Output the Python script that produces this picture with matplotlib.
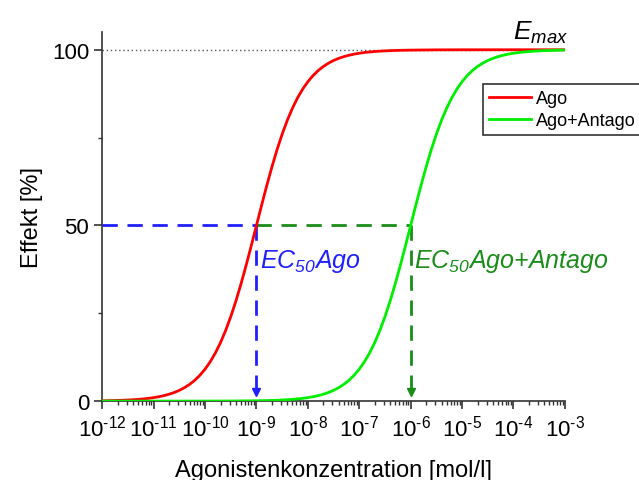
import matplotlib
matplotlib.use("Agg")
import matplotlib.pyplot as plt
from matplotlib.ticker import LogLocator, NullFormatter, FixedFormatter
import numpy as np

plt.rcParams['font.family'] = ['Liberation Sans', 'DejaVu Sans']
plt.rcParams['mathtext.fontset'] = 'custom'
plt.rcParams['mathtext.rm'] = 'Liberation Sans'
plt.rcParams['mathtext.it'] = 'Liberation Sans:italic'
plt.rcParams['mathtext.sf'] = 'Liberation Sans:italic'
plt.rcParams['mathtext.bf'] = 'Liberation Sans:bold'
plt.rcParams['axes.unicode_minus'] = False

# Data (log10 of concentration, effect in %)
ago_logx = list(np.round(np.arange(-12, -5.95, 0.1), 1)) + [-5.5, -5, -4, -3]
ago_eff = [0.10, 0.13, 0.16, 0.20, 0.25, 0.32, 0.40, 0.50, 0.63, 0.79,
           0.99, 1.24, 1.56, 1.96, 2.45, 3.07, 3.83, 4.77, 5.94, 7.36,
           9.09, 11.18, 13.68, 16.63, 20.08, 24.03, 28.47, 33.39, 38.69, 44.27,
           50.0,
           55.73, 61.31, 66.61, 71.53, 75.97, 79.92, 83.37, 86.32, 88.82, 90.91,
           92.64, 94.07, 95.23, 96.17, 96.94, 97.55, 98.04, 98.44, 98.76, 99.01,
           99.21, 99.37, 99.50, 99.60, 99.68, 99.75, 99.80, 99.84, 99.87, 99.90,
           99.97, 99.99, 100.0, 100.0]

anta_logx = [-12, -11, -10, -9.5] + list(np.round(np.arange(-9, -2.95, 0.1), 1))
anta_eff = [0.0, 0.0, 0.01, 0.03,
            0.10, 0.13, 0.16, 0.20, 0.25, 0.32, 0.40, 0.50, 0.63, 0.79,
            0.99, 1.24, 1.56, 1.96, 2.45, 3.07, 3.83, 4.77, 5.94, 7.36,
            9.09, 11.18, 13.68, 16.63, 20.08, 24.03, 28.47, 33.39, 38.69, 44.27,
            50.0,
            55.73, 61.31, 66.61, 71.53, 75.97, 79.92, 83.37, 86.32, 88.82, 90.91,
            92.64, 94.07, 95.23, 96.17, 96.94, 97.55, 98.04, 98.44, 98.76, 99.01,
            99.21, 99.37, 99.50, 99.60, 99.68, 99.75, 99.80, 99.84, 99.87, 99.90]

x_tick_exponents = [-12, -11, -10, -9, -8, -7, -6, -5, -4, -3]
y_ticks = [0, 50, 100]
y_minor_ticks = [25, 75]

ec50_ago = 1e-9
ec50_anta = 1e-6
half_effect = 50
emax = 100

ago_x = [10.0 ** v for v in ago_logx]
anta_x = [10.0 ** v for v in anta_logx]

fig = plt.figure(figsize=(6.39, 4.81), dpi=100)
ax = fig.add_axes([0.16, 0.164, 0.724, 0.767])

ax.set_xscale('log')
ax.set_xlim(1e-12, 1e-3)
ax.set_ylim(0, 105)

# Emax dotted line
ax.plot([1e-12, 1e-3], [emax, emax], linestyle=(0, (1, 2)), color='#555555', lw=1.0, zorder=1)

# dashed guide lines
blue = '#1f1fff'
dgreen = '#1a8c1a'
ax.plot([1e-12, ec50_ago], [half_effect, half_effect], color=blue, lw=2, dashes=(5.5, 3.5), zorder=2)
ax.plot([ec50_ago, ec50_anta], [half_effect, half_effect], color=dgreen, lw=2, dashes=(5.5, 3.5), zorder=2)
ax.plot([ec50_ago, ec50_ago], [half_effect, 3], color=blue, lw=2, dashes=(5.5, 3.5), zorder=2)
ax.plot([ec50_anta, ec50_anta], [half_effect, 3], color=dgreen, lw=2, dashes=(5.5, 3.5), zorder=2)
ax.plot([ec50_ago], [2.6], marker='v', color=blue, markersize=6, zorder=2)
ax.plot([ec50_anta], [2.6], marker='v', color=dgreen, markersize=6, zorder=2)

# curves
ax.plot(ago_x, ago_eff, color='#ff0000', lw=2, label='Ago', zorder=3)
ax.plot(anta_x, anta_eff, color='#00ee00', lw=2, label='Ago+Antago', zorder=3)

# texts
ax.text(1.15e-9, 40, r'$\mathsf{EC_{50}Ago}$', color=blue, fontsize=18, va='center', ha='left')
ax.text(1.15e-6, 40, r'$\mathsf{EC_{50}Ago{+}Antago}$', color=dgreen, fontsize=18, va='center', ha='left')
ax.text(1.0e-4, 101.3, r'$\mathsf{E_{max}}$', color='black', fontsize=19, va='bottom', ha='left')

# spines / ticks
ax.spines['top'].set_visible(False)
ax.spines['right'].set_visible(False)
for s in ('left', 'bottom'):
    ax.spines[s].set_linewidth(1.2)
    ax.spines[s].set_color('#333333')
ax.set_yticks(y_ticks)
ax.set_yticks(y_minor_ticks, minor=True)
ax.set_xticks([10.0 ** e for e in x_tick_exponents])
ax.xaxis.set_major_formatter(FixedFormatter(
    [r'$\mathdefault{10^{\text{-}%d}}$' % abs(e) for e in x_tick_exponents]))
ax.xaxis.set_minor_locator(LogLocator(base=10, subs=np.arange(2, 10), numticks=100))
ax.xaxis.set_minor_formatter(NullFormatter())
ax.tick_params(axis='both', which='major', direction='out', length=6, width=1.2, labelsize=16, color='#333333')
ax.tick_params(axis='both', which='minor', direction='out', length=3, width=1.0, color='#333333')
ax.tick_params(axis='x', which='major', pad=4)

ax.set_xlabel('Agonistenkonzentration [mol/l]', fontsize=17, labelpad=13)
ax.set_ylabel('Effekt [%]', fontsize=17, labelpad=6)

leg = ax.legend(loc='upper left', bbox_to_anchor=(483 / 639, 1 - 85 / 481), bbox_transform=fig.transFigure,
                fontsize=13, frameon=True, fancybox=False, edgecolor='black', handlelength=2.3,
                handletextpad=0.3, borderpad=0.35, labelspacing=0.25, borderaxespad=0)
leg.get_frame().set_linewidth(1.2)

fig.savefig('out.png', dpi=100)
